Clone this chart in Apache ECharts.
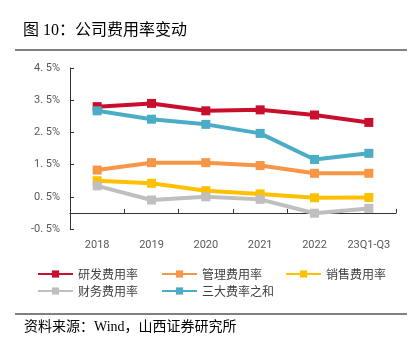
<!DOCTYPE html>
<html>
	<head>
		<meta charset="UTF-8">
		<title></title>
		<script src="https://cdn.jsdelivr.net/npm/echarts@6/dist/echarts.min.js" type="text/javascript" charset="utf-8"></script>
		<style>
			html, body { margin: 0; padding: 0; background: #fff; }
		</style>
	</head>
	<body>
		<div id="chart" style="width:415px;height:351px;"></div>
	</body>
	<script type="text/javascript">
        // 数据
        var years = ['2018', '2019', '2020', '2021', '2022', '23Q1-Q3'];
        var yfRate = [3.30, 3.40, 3.17, 3.20, 3.04, 2.81];   // 研发费用率
        var glRate = [1.33, 1.56, 1.56, 1.47, 1.23, 1.23];   // 管理费用率
        var xsRate = [1.00, 0.92, 0.69, 0.59, 0.47, 0.48];   // 销售费用率
        var cwRate = [0.84, 0.40, 0.50, 0.42, -0.01, 0.14];  // 财务费用率
        var sumRate = [3.17, 2.91, 2.75, 2.47, 1.66, 1.85];  // 三大费率之和
        var yTicks = [-0.5, 0.5, 1.5, 2.5, 3.5, 4.5];

        var colors = ['#C8102E', '#F79646', '#FFC000', '#BFBFBF', '#4BACC6'];
        var txtFont = '"Liberation Serif", "Noto Sans CJK SC", serif';

        function makeLine(name, data, color) {
            return {
                name: name,
                type: 'line',
                data: data,
                symbol: 'rect',
                symbolSize: 9,
                lineStyle: { width: 4, color: color },
                itemStyle: { color: color },
                emphasis: { disabled: true }
            };
        }

        var chart = echarts.init(document.getElementById('chart'));
        chart.setOption({
            animation: false,
            textStyle: { fontFamily: '"Noto Sans CJK SC", sans-serif' },
            title: {
                text: '图 10：公司费用率变动',
                left: 18,
                top: 18,
                textStyle: { fontFamily: txtFont, fontSize: 16, fontWeight: 'normal', color: '#000' }
            },
            graphic: [
                { type: 'line', shape: { x1: 15, y1: 50, x2: 407, y2: 50 }, style: { stroke: '#000', lineWidth: 1 } },
                { type: 'line', shape: { x1: 15, y1: 314, x2: 407, y2: 314 }, style: { stroke: '#000', lineWidth: 1 } },
                {
                    type: 'text', left: 24, top: 320,
                    style: { text: '资料来源：Wind，山西证券研究所', font: '14px ' + txtFont, fill: '#000' }
                }
            ],
            legend: [{
                data: ['研发费用率', '管理费用率', '销售费用率'],
                left: 32, top: 263,
                itemWidth: 35, itemHeight: 9, itemGap: 23,
                textStyle: { fontSize: 12, color: '#404040' }
            }, {
                data: ['财务费用率', '三大费率之和'],
                left: 32, top: 280,
                itemWidth: 35, itemHeight: 9, itemGap: 23,
                textStyle: { fontSize: 12, color: '#404040' }
            }],
            grid: { left: 70, right: 19, top: 68, bottom: 122 },
            xAxis: {
                type: 'category',
                data: years,
                boundaryGap: true,
                axisLine: { lineStyle: { color: '#333', width: 1 } },
                axisTick: { show: true, length: 4, inside: true, interval: 0, lineStyle: { color: '#333' } },
                axisLabel: { interval: 0, color: '#595959', fontSize: 11, margin: 11, fontFamily: 'Roboto, sans-serif' }
            },
            yAxis: {
                type: 'value',
                min: yTicks[0],
                max: yTicks[yTicks.length - 1],
                interval: 1,
                axisLine: { show: true, lineStyle: { color: '#333', width: 1 } },
                axisTick: { show: true, length: 4, inside: true, lineStyle: { color: '#333' } },
                splitLine: { show: false },
                axisLabel: {
                    color: '#595959', fontSize: 11, margin: 10,
                    fontFamily: 'Roboto, sans-serif',
                    formatter: function (v) { return v.toFixed(1).replace('.', '. ') + '%'; }
                }
            },
            series: [
                makeLine('研发费用率', yfRate, colors[0]),
                makeLine('管理费用率', glRate, colors[1]),
                makeLine('销售费用率', xsRate, colors[2]),
                makeLine('财务费用率', cwRate, colors[3]),
                makeLine('三大费率之和', sumRate, colors[4])
            ]
        });
	</script>
</html>
